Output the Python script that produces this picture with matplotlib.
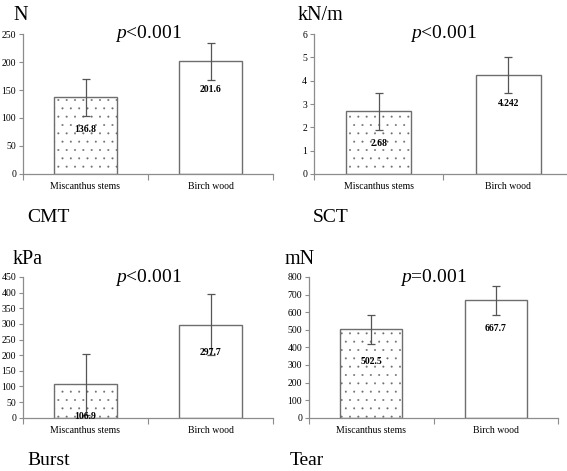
import matplotlib
matplotlib.use("Agg")
import matplotlib.pyplot as plt

plt.rcParams['font.family'] = ['Liberation Serif', 'DejaVu Serif']
plt.rcParams['mathtext.fontset'] = 'custom'
plt.rcParams['mathtext.rm'] = 'Liberation Serif'
plt.rcParams['mathtext.it'] = 'Liberation Serif:italic'
plt.rcParams['hatch.linewidth'] = 0.2
plt.rcParams['hatch.color'] = '#c4c4c4'

categories = ["Miscanthus stems", "Birch wood"]

cmt_values = [136.8, 201.6]
cmt_errors = [32.5, 33.0]
sct_values = [2.68, 4.242]
sct_errors = [0.79, 0.78]
burst_values = [106.9, 297.7]
burst_errors = [97.0, 97.0]
tear_values = [502.5, 667.7]
tear_errors = [84.0, 83.5]

value_labels = {
    "CMT": ["136.8", "201.6"],
    "SCT": ["2.68", "4.242"],
    "Burst": ["106.9", "297.7"],
    "Tear": ["502.5", "667.7"],
}

panels = [
    # name, unit, p-text, values, errors, ymax, ystep,
    # axes rect (pixels: left, top, right, bottom), unit x px, name x px
    ("CMT", "N", "<0.001", cmt_values, cmt_errors, 250, 50, (23, 34, 273, 174), 13, 27),
    ("SCT", "kN/m", "<0.001", sct_values, sct_errors, 6, 1, (314, 34, 573, 174), 298, 313),
    ("Burst", "kPa", "<0.001", burst_values, burst_errors, 450, 50, (23, 277, 273, 417.7), 13, 27),
    ("Tear", "mN", "=0.001", tear_values, tear_errors, 800, 100, (309, 277, 558, 417.7), 285, 290),
]

W, H = 567, 471
fig = plt.figure(figsize=(W / 100, H / 100), dpi=100)

axis_col = '#8c8c8c'
label_offsets_px = [-32, -28]

for name, unit, ptxt, vals, errs, ymax, ystep, (l, t, r, b), ux, nx in panels:
    ax = fig.add_axes([l / W, 1 - b / H, (r - l) / W, (b - t) / H])
    x = [0.5, 1.5]
    bars = ax.bar(x, vals, width=0.5, color='white', edgecolor='#6e6e6e',
                  linewidth=1.0, zorder=2)
    bars[0].set_hatch('..')
    ax.errorbar(x, vals, yerr=errs, fmt='none', ecolor='#555555',
                elinewidth=0.9, capsize=3, capthick=0.9, zorder=3)
    ax.set_xlim(0, 2)
    ax.set_ylim(0, ymax)
    ticks = list(range(0, int(ymax) + 1, int(ystep)))
    ax.set_yticks(ticks)
    ax.set_yticklabels([str(v) for v in ticks], fontsize=7)
    ax.set_xticks([0, 1, 2])
    ax.set_xticklabels([])
    ax.set_xticks(x, minor=True)
    ax.set_xticklabels(categories, minor=True, fontsize=7)
    ax.tick_params(axis='x', which='minor', length=0, pad=6)
    ax.tick_params(axis='x', which='major', length=4, color=axis_col, direction='out')
    ax.tick_params(axis='y', length=3, color=axis_col, pad=2)
    for s in ['top', 'right']:
        ax.spines[s].set_visible(False)
    for s in ['left', 'bottom']:
        ax.spines[s].set_color(axis_col)
        ax.spines[s].set_linewidth(0.9)
    for xi, v, lab, off in zip(x, vals, value_labels[name], label_offsets_px):
        ax.annotate(lab, (xi, v), xytext=(0, off), textcoords='offset pixels',
                    ha='center', va='center', fontsize=7, fontweight='bold', zorder=4)
    # p value text
    ax.text(0.5, 1.0, r'$\mathit{p}$' + ptxt, transform=ax.transAxes, ha='center', va='center',
            fontsize=14)
    # unit label
    fig.text(ux / W, 1 - (t - 18) / H, unit, ha='left', va='center', fontsize=14.5)
    # panel name
    fig.text(nx / W, 1 - (b + 43) / H, name, ha='left', va='center', fontsize=14)

fig.savefig('out.png', dpi=100)
